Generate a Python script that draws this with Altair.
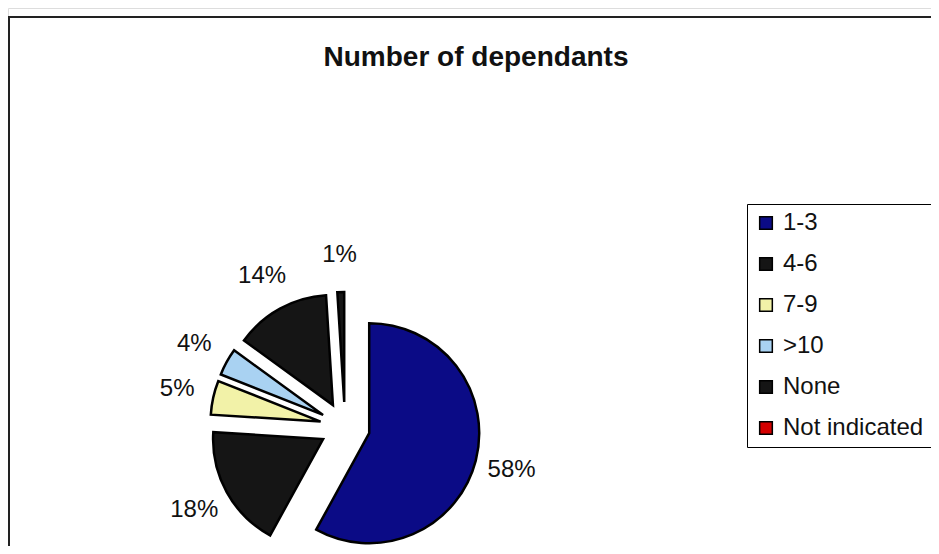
import altair as alt
import pandas as pd

# ---- data ----
categories = ["1-3", "4-6", "7-9", ">10", "None", "Not indicated"]
percent = [58, 18, 5, 4, 14, 1]
colors = ["#0b0b86", "#151515", "#f2f2a8", "#a9d2f2", "#151515", "#d40000"]
title_text = ["Number of dependants"]

# ---- layout (plot-area pixels) ----
W, H = 923, 538
CX, CY = 337, 419      # pie centre
R = 110                # pie radius
D = 25                 # explosion distance
LR = 172               # label distance

df = pd.DataFrame({"cat": categories, "pct": percent, "order": list(range(len(categories)))})

base = alt.Chart(df).transform_window(
    cum="sum(pct)", sort=[alt.SortField("order")], frame=[None, 0]
).transform_joinaggregate(
    total="sum(pct)"
).transform_calculate(
    t1="datum.cum / datum.total * 2 * PI",
    t0="(datum.cum - datum.pct) / datum.total * 2 * PI",
).transform_calculate(
    mid="(datum.t0 + datum.t1) / 2"
).transform_calculate(
    px=f"{CX} + {D} * sin(datum.mid)",
    py=f"{CY} - {D} * cos(datum.mid)",
    lx=f"{CX} + {LR} * sin(datum.mid)",
    ly=f"{CY} - {LR} * cos(datum.mid)",
    lab="datum.pct + '%'",
)

arcs = base.mark_arc(stroke="black", strokeWidth=2.5, radius=R).encode(
    x=alt.X("px:Q", scale=None, axis=None),
    y=alt.Y("py:Q", scale=None, axis=None),
    theta=alt.Theta("t0:Q", scale=None, stack=None),
    theta2=alt.Theta2("t1:Q"),
    color=alt.condition(
        "datum.cat === 'Not indicated'",
        alt.value("#151515"),
        alt.Color(
            "cat:N",
            scale=alt.Scale(domain=categories, range=colors),
            sort=categories,
            legend=alt.Legend(
                title=None,
                orient="none",
                legendX=739,
                legendY=196,
                strokeColor="black",
                fillColor="white",
                padding=7,
                symbolType="square",
                symbolSize=160,
                symbolStrokeColor="black",
                symbolStrokeWidth=1.5,
                labelFontSize=24,
                labelFont="Liberation Sans",
                labelColor="#111111",
                labelOffset=5,
                rowPadding=17,
            ),
        ),
    ),
)

labels = base.mark_text(
    font="Liberation Sans", fontSize=24, color="#111111", align="center", baseline="middle"
).encode(
    x=alt.X("lx:Q", scale=None, axis=None),
    y=alt.Y("ly:Q", scale=None, axis=None),
    text="lab:N",
)

title = alt.Chart(pd.DataFrame({"t": title_text})).mark_text(
    font="Liberation Sans", fontSize=28, fontWeight="bold", color="#111111",
    align="center", baseline="alphabetic"
).encode(x=alt.value(468), y=alt.value(58), text="t:N")

one = pd.DataFrame({"a": [0]})
top_rule = alt.Chart(one).mark_rule(color="#222222", strokeWidth=2).encode(
    x=alt.value(0), x2=alt.value(W), y=alt.value(9)
)
left_rule = alt.Chart(one).mark_rule(color="#222222", strokeWidth=2).encode(
    x=alt.value(1), y=alt.value(9), y2=alt.value(H)
)

chart = alt.layer(top_rule, left_rule, arcs, labels, title).properties(
    width=W, height=H, padding=0, autosize=alt.AutoSizeParams(type="none")
).configure_view(stroke=None).configure_legend(strokeWidth=2).configure(background="white")

chart.save("out.html", embed_options={"renderer": "svg", "actions": False})
